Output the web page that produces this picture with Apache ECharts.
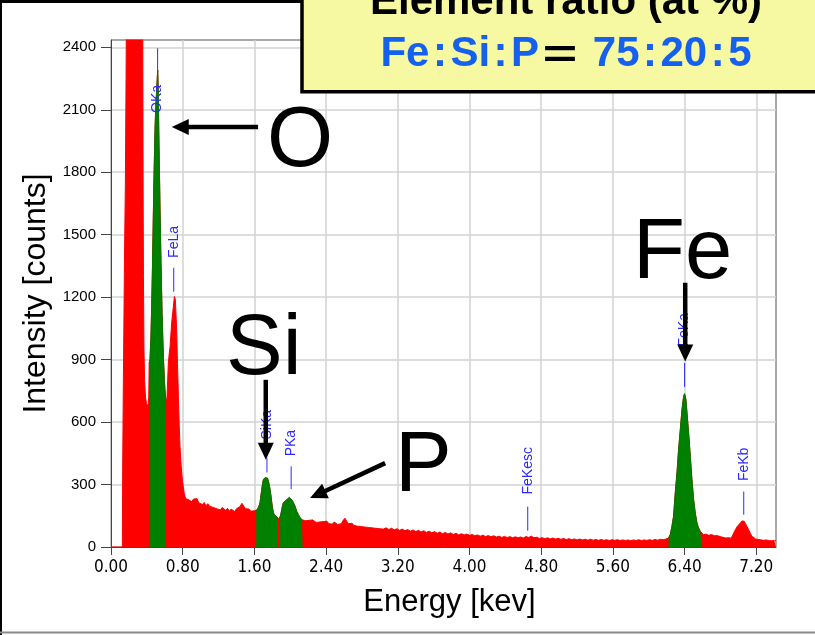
<!DOCTYPE html>
<html>
<head>
<meta charset="utf-8">
<script src="https://cdn.jsdelivr.net/npm/echarts@6/dist/echarts.min.js"></script>
<style>
  html, body { margin: 0; padding: 0; background: #fff; }
  #chart { width: 815px; height: 635px; }
</style>
</head>
<body>
<div id="chart"></div>
<script>
// spectrum: [energy keV, counts]
const spectrumLow = [
  [0.00, 0], [0.127, 0], [0.130, 370], [0.138, 800], [0.145, 1125], [0.152, 1450], [0.160, 1730],
  [0.168, 2250], [0.175, 2800], [0.19, 3700], [0.21, 4500], [0.24, 5100], [0.27, 5300], [0.30, 4900],
  [0.33, 3900], [0.345, 2900], [0.354, 2500], [0.358, 1800], [0.362, 1300], [0.368, 950], [0.375, 800],
  [0.385, 720], [0.395, 690], [0.405, 675], [0.415, 690], [0.421, 720],
  [0.426, 884], [0.435, 900], [0.445, 1000], [0.454, 1155], [0.463, 1350], [0.472, 1586], [0.481, 1800],
  [0.491, 2003], [0.500, 2120], [0.510, 2195], [0.516, 2250], [0.521, 2291], [0.525, 2230], [0.528, 2163],
  [0.533, 2000], [0.539, 1843], [0.548, 1600], [0.558, 1363], [0.570, 1120], [0.584, 914], [0.597, 790],
  [0.608, 712], [0.616, 700], [0.625, 720], [0.632, 800], [0.640, 884], [0.650, 930], [0.659, 960],
  [0.668, 1020], [0.677, 1076], [0.687, 1120], [0.696, 1155], [0.703, 1185], [0.707, 1203], [0.712, 1196],
  [0.718, 1190], [0.725, 1120], [0.733, 1043], [0.742, 880], [0.752, 723], [0.761, 590], [0.770, 483],
  [0.780, 410], [0.789, 356], [0.798, 315], [0.807, 290], [0.816, 262], [0.826, 242], [0.835, 232], [0.845, 227]
];
const spectrumMid = [
  [0.86, 228], [0.88, 236], [0.90, 218], [0.92, 230], [0.94, 222], [0.96, 232], [0.98, 212], [1.00, 220],
  [1.02, 204], [1.04, 214], [1.06, 198], [1.08, 208], [1.10, 196], [1.12, 204], [1.14, 190], [1.16, 198],
  [1.18, 184], [1.20, 192], [1.22, 178], [1.24, 190], [1.26, 182], [1.28, 176], [1.30, 186], [1.32, 172],
  [1.34, 182], [1.36, 176], [1.38, 170], [1.40, 184], [1.42, 178], [1.44, 194], [1.46, 210], [1.48, 202],
  [1.50, 184], [1.52, 176], [1.54, 182], [1.56, 172], [1.58, 180], [1.60, 174], [1.612, 170],
  [1.62, 171], [1.635, 180], [1.65, 195], [1.663, 213], [1.672, 245], [1.682, 275], [1.690, 300], [1.700, 323],
  [1.710, 330], [1.719, 333], [1.728, 325], [1.738, 339], [1.747, 330], [1.756, 323], [1.765, 300], [1.775, 275],
  [1.785, 245], [1.794, 213], [1.803, 185], [1.812, 165], [1.822, 155], [1.831, 147], [1.840, 150], [1.850, 145],
  [1.860, 140], [1.868, 135],
  [1.879, 131], [1.892, 150], [1.905, 179], [1.915, 200], [1.924, 213], [1.942, 222], [1.961, 227], [1.979, 235],
  [1.990, 238], [1.998, 243], [2.008, 236], [2.017, 227], [2.026, 222], [2.035, 213], [2.045, 205], [2.054, 195],
  [2.064, 182], [2.073, 171], [2.082, 162], [2.091, 155], [2.100, 146], [2.110, 141], [2.120, 136], [2.129, 131],
  [2.138, 128],
  [2.15, 131], [2.17, 126], [2.19, 135], [2.21, 128], [2.23, 122], [2.25, 130], [2.27, 124], [2.29, 118],
  [2.31, 126], [2.33, 120], [2.35, 114], [2.37, 122], [2.39, 116], [2.41, 124], [2.43, 112], [2.45, 118],
  [2.47, 110], [2.49, 120], [2.51, 114], [2.53, 108], [2.55, 116], [2.57, 112], [2.59, 128], [2.61, 138],
  [2.63, 124], [2.65, 112], [2.67, 106], [2.69, 114], [2.71, 104], [2.73, 110], [2.75, 100], [2.77, 106],
  [2.79, 98], [2.81, 104], [2.83, 96], [2.85, 102], [2.87, 94], [2.89, 100], [2.91, 92], [2.93, 98],
  [2.95, 90], [2.97, 96], [2.99, 88]
];
const spectrumHigh = [
  [3.01, 94], [3.04, 86], [3.07, 92], [3.10, 84], [3.13, 90], [3.16, 82], [3.19, 88], [3.22, 80],
  [3.25, 86], [3.28, 78], [3.31, 84], [3.34, 76], [3.37, 82], [3.40, 74], [3.43, 80], [3.46, 72],
  [3.49, 78], [3.52, 70], [3.55, 76], [3.58, 68], [3.61, 74], [3.64, 66], [3.67, 72], [3.70, 64],
  [3.73, 70], [3.76, 62], [3.79, 68], [3.82, 60], [3.85, 66], [3.88, 58], [3.91, 64], [3.94, 58],
  [3.97, 62], [4.00, 56], [4.03, 60], [4.06, 54], [4.09, 58], [4.12, 52], [4.15, 57], [4.18, 50],
  [4.21, 55], [4.24, 49], [4.27, 54], [4.30, 48], [4.33, 52], [4.36, 46], [4.39, 51], [4.42, 45],
  [4.45, 50], [4.48, 44], [4.51, 49], [4.54, 44], [4.57, 48], [4.60, 43], [4.63, 50], [4.66, 46],
  [4.69, 52], [4.72, 44], [4.75, 47], [4.78, 41], [4.81, 45], [4.84, 40], [4.87, 44], [4.90, 39],
  [4.93, 43], [4.96, 38], [4.99, 42], [5.02, 37], [5.05, 41], [5.08, 36], [5.11, 40], [5.14, 35],
  [5.17, 39], [5.20, 34], [5.23, 38], [5.26, 34], [5.29, 37], [5.32, 33], [5.35, 37], [5.38, 33],
  [5.41, 36], [5.44, 32], [5.47, 36], [5.50, 32], [5.53, 35], [5.56, 31], [5.59, 35], [5.62, 32],
  [5.65, 35], [5.68, 31], [5.71, 34], [5.74, 31], [5.77, 34], [5.80, 30], [5.83, 34], [5.86, 31],
  [5.89, 35], [5.92, 31], [5.95, 34], [5.98, 32], [6.01, 35], [6.04, 32], [6.07, 36], [6.10, 33],
  [6.13, 37], [6.16, 35], [6.19, 38], [6.21, 40],
  [6.221, 43], [6.240, 59], [6.259, 99], [6.277, 147], [6.296, 259], [6.315, 355], [6.333, 467], [6.352, 563],
  [6.371, 659], [6.389, 723], [6.400, 736], [6.415, 707], [6.427, 643], [6.445, 547], [6.464, 435], [6.482, 323],
  [6.501, 227], [6.519, 163], [6.538, 115], [6.556, 91], [6.575, 75], [6.594, 67],
  [6.612, 59], [6.64, 62], [6.67, 56], [6.70, 60], [6.73, 54], [6.76, 55], [6.80, 50], [6.83, 46],
  [6.86, 43], [6.89, 45], [6.92, 42], [6.94, 46], [6.966, 83], [6.99, 100], [7.022, 115], [7.04, 125],
  [7.052, 131], [7.065, 124], [7.078, 115], [7.095, 100], [7.115, 83], [7.135, 65], [7.152, 51], [7.17, 44],
  [7.19, 39], [7.22, 36], [7.245, 35], [7.28, 32], [7.31, 34], [7.34, 31], [7.37, 30], [7.40, 31], [7.42, 29]
];

// energy windows painted green
const greenBands = [[0.424, 0.612], [1.615, 1.862], [1.877, 2.14], [6.215, 6.595]];

const xTicks = [0, 0.8, 1.6, 2.4, 3.2, 4.0, 4.8, 5.6, 6.4, 7.2];
const yTicks = [0, 300, 600, 900, 1200, 1500, 1800, 2100, 2400];

// element markers: name, energy, marker line top/bottom (counts), label centre (counts)
const lineNames = ['OKa', 'FeLa', 'SiKa', 'PKa', 'FeKesc', 'FeKa', 'FeKb'];
const lineEnergy = [0.52, 0.70, 1.74, 2.01, 4.65, 6.40, 7.06];
const lineTop = [2395, 1341, 429, 387, 194, 884, 266];
const lineBottom = [2291, 1226, 358, 278, 78, 769, 155];
const lineLabelAt = [2152, 1465, 587, 499, 366, 1043, 397];

// arrows: [fromKeV, fromCounts, toKeV, toCounts]
const arrows = [
  [1.641, 2017, 0.678, 2017],
  [1.727, 803, 1.727, 419],
  [3.059, 403, 2.221, 235],
  [6.407, 1269, 6.407, 891]
];

const BLUE = '#2a2aff';
const FONT = '"Liberation Sans", Arial, Helvetica, sans-serif';

const spectrum = spectrumLow.concat(spectrumMid, spectrumHigh);
const inGreen = e => greenBands.some(b => e >= b[0] && e <= b[1]);
const greenData = spectrum.map(p => (inGreen(p[0]) ? p : [p[0], null]));
const markerData = lineNames.map((n, i) => [lineEnergy[i], lineTop[i], lineBottom[i], lineLabelAt[i]]);

function renderMarker(params, api) {
  const top = api.coord([api.value(0), api.value(1)]);
  const bottom = api.coord([api.value(0), api.value(2)]);
  const lab = api.coord([api.value(0), api.value(3)]);
  return {
    type: 'group',
    children: [
      { type: 'line', shape: { x1: top[0], y1: top[1], x2: bottom[0], y2: bottom[1] },
        style: { stroke: BLUE, lineWidth: 1 } },
      { type: 'text', x: lab[0], y: lab[1], rotation: Math.PI / 2,
        style: { text: lineNames[params.dataIndex], fill: BLUE, fontSize: 14, fontFamily: FONT,
                 align: 'center', verticalAlign: 'middle' } }
    ]
  };
}

function renderArrow(params, api) {
  const p1 = api.coord([api.value(0), api.value(1)]);
  const p2 = api.coord([api.value(2), api.value(3)]);
  const dx = p2[0] - p1[0], dy = p2[1] - p1[1];
  const len = Math.sqrt(dx * dx + dy * dy);
  const ux = dx / len, uy = dy / len;
  const headLen = 17, headW = 8;
  const bx = p2[0] - ux * headLen, by = p2[1] - uy * headLen;
  return {
    type: 'group',
    children: [
      { type: 'line', shape: { x1: p1[0], y1: p1[1], x2: bx + ux * 2, y2: by + uy * 2 },
        style: { stroke: '#000', lineWidth: 4.5 } },
      { type: 'polygon',
        shape: { points: [[p2[0], p2[1]], [bx - uy * headW, by + ux * headW], [bx + uy * headW, by - ux * headW]] },
        style: { fill: '#000' } }
    ]
  };
}

const chart = echarts.init(document.getElementById('chart'));
chart.setOption({
  animation: false,
  backgroundColor: '#fff',
  grid: { left: 111, right: 39, top: 40, bottom: 88, show: true, borderColor: '#555', borderWidth: 1 },
  xAxis: {
    type: 'value', min: 0, max: 7.42,
    name: 'Energy [kev]', nameLocation: 'middle', nameGap: 40,
    nameTextStyle: { fontSize: 31, fontFamily: FONT, color: '#000', padding: [0, 0, 0, 12] },
    axisLine: { lineStyle: { color: '#444' } },
    axisTick: { length: 8, lineStyle: { color: '#444' }, customValues: xTicks },
    axisLabel: { customValues: xTicks, margin: 12, fontSize: 17, color: '#000',
      fontFamily: '"Liberation Sans Narrow", "DejaVu Sans Condensed", "Liberation Sans", sans-serif',
      formatter: v => v.toFixed(2) },
    splitLine: { show: true, lineStyle: { color: '#d2d2d2', width: 1.5 } }
  },
  yAxis: {
    type: 'value', min: 0, max: 2435, interval: 300,
    name: 'Intensity [counts]', nameLocation: 'middle', nameGap: 53,
    nameTextStyle: { fontSize: 32, fontFamily: FONT, color: '#000' },
    axisLine: { show: true, lineStyle: { color: '#444' } },
    axisTick: { show: true, length: 10, lineStyle: { color: '#444' }, customValues: yTicks },
    axisLabel: { customValues: yTicks, margin: 15, fontSize: 15, color: '#000', fontFamily: FONT,
      formatter: v => String(v) },
    splitLine: { show: true, lineStyle: { color: '#d2d2d2', width: 1.5 } }
  },
  series: [
    {
      type: 'line', data: spectrum, showSymbol: false, symbol: 'none',
      lineStyle: { color: '#ff0000', width: 1 }, areaStyle: { color: '#ff0000', opacity: 1 },
      itemStyle: { color: '#ff0000' }, z: 2
    },
    {
      type: 'line', data: greenData, showSymbol: false, symbol: 'none', connectNulls: false,
      lineStyle: { color: '#007a00', width: 1 }, areaStyle: { color: '#008000', opacity: 1 },
      itemStyle: { color: '#008000' }, z: 3
    },
    {
      type: 'custom', data: markerData, renderItem: renderMarker,
      encode: { x: 0, y: [1, 2, 3] }, z: 4
    },
    {
      type: 'custom', data: arrows, renderItem: renderArrow,
      encode: { x: [0, 2], y: [1, 3] }, z: 5
    }
  ],
  graphic: [
    { type: 'line', z: 50, shape: { x1: 0, y1: 1.5, x2: 815, y2: 1.5 }, style: { stroke: '#000', lineWidth: 3 } },
    { type: 'line', z: 50, shape: { x1: 1, y1: 0, x2: 1, y2: 635 }, style: { stroke: '#000', lineWidth: 2 } },
    { type: 'line', z: 50, shape: { x1: 0, y1: 632.5, x2: 815, y2: 632.5 }, style: { stroke: '#8a8a8a', lineWidth: 2 } },
    { type: 'text', z: 60, x: 267, y: 143, style: { text: 'O', fontSize: 85, fontFamily: FONT, fill: '#000', align: 'left', verticalAlign: 'middle' } },
    { type: 'text', z: 60, x: 226, y: 351, style: { text: 'Si', fontSize: 85, fontFamily: FONT, fill: '#000', align: 'left', verticalAlign: 'middle' } },
    { type: 'text', z: 60, x: 395, y: 468, style: { text: 'P', fontSize: 85, fontFamily: FONT, fill: '#000', align: 'left', verticalAlign: 'middle' } },
    { type: 'text', z: 60, x: 633, y: 255, style: { text: 'Fe', fontSize: 85, fontFamily: FONT, fill: '#000', align: 'left', verticalAlign: 'middle' } },
    { type: 'rect', z: 100, shape: { x: 302, y: -10, width: 530, height: 101.7 },
      style: { fill: '#f6f9a2', stroke: '#000', lineWidth: 3.5 } },
    { type: 'text', z: 101, x: 566, y: 2,
      style: { text: 'Element ratio (at %)', fontSize: 42, fontWeight: 'bold', fontFamily: FONT, fill: '#000',
               align: 'center', verticalAlign: 'middle' } },
    { type: 'text', z: 101, x: 566, y: 54,
      style: {
        text: '{b|Fe}{c|:}{b|Si}{c|:}{b|P}{k|＝}{b| 75}{c|:}{b|20}{c|:}{b|5}',
        align: 'center', verticalAlign: 'middle',
        rich: {
          b: { fontSize: 42, fontWeight: 'bold', fontFamily: FONT, fill: '#1560ee' },
          c: { fontSize: 42, fontWeight: 'bold', fontFamily: FONT, fill: '#1560ee', padding: [0, 3.5] },
          k: { fontSize: 42, fontWeight: 'bold', fontFamily: '"Noto Sans CJK JP", sans-serif', fill: '#000' }
        }
      } }
  ]
});
</script>
</body>
</html>
